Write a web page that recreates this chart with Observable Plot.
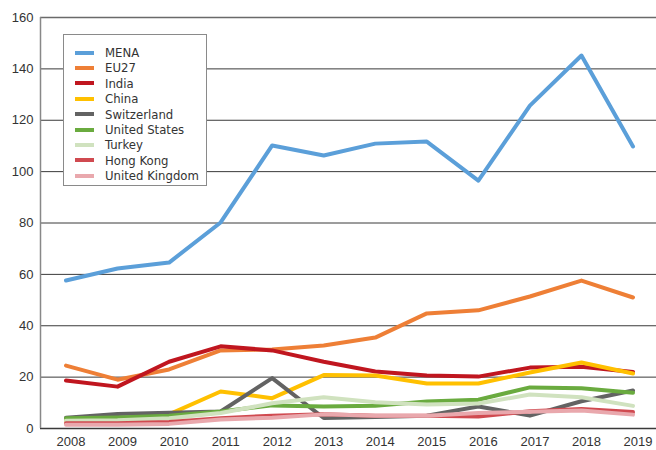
<!DOCTYPE html>
<html>
<head>
<meta charset="utf-8">
<script src="https://cdn.jsdelivr.net/npm/d3@7"></script>
<script src="https://cdn.jsdelivr.net/npm/@observablehq/plot@0.6"></script>
<style>
  html, body { margin: 0; padding: 0; background: #fff; }
  #wrap { position: relative; width: 656px; height: 450px; }
  #legend {
    position: absolute; left: 63px; top: 34px; width: 144px; height: 152px;
    box-sizing: border-box; border: 1.5px solid #8a8a8a; background: #fff;
    font-family: "DejaVu Sans Condensed", "Liberation Sans Narrow", "Liberation Sans", sans-serif;
    font-size: 13px; color: #333; padding-top: 10px;
  }
  .item { height: 15.4px; line-height: 15.4px; display: flex; align-items: center; }
  .sw { width: 19px; height: 4px; margin-left: 11px; margin-right: 11px; }
</style>
</head>
<body>
<div id="wrap"></div>
<script>
const years = [2008, 2009, 2010, 2011, 2012, 2013, 2014, 2015, 2016, 2017, 2018, 2019];
const seriesNames = ["MENA", "EU27", "India", "China", "Switzerland", "United States", "Turkey", "Hong Kong", "United Kingdom"];
const seriesColors = ["#5b9fd9", "#ee7f36", "#c0161f", "#ffc000", "#636363", "#6aab3f", "#d0e2bf", "#d04a50", "#e9a8ad"];
const MENA = [57.6, 62.3, 64.6, 80.2, 110.2, 106.3, 110.9, 111.7, 96.5, 125.7, 145.2, 109.8];
const EU27 = [24.5, 19, 23, 30.4, 30.8, 32.3, 35.4, 44.8, 46, 51.4, 57.6, 51];
const India = [18.7, 16.3, 26, 32, 30.4, 26, 22.2, 20.6, 20.2, 23.7, 24, 22];
const China = [3, 3, 5.5, 14.4, 11.8, 20.8, 20.6, 17.5, 17.5, 21.8, 25.7, 21.4];
const Switzerland = [4.2, 5.6, 6.1, 6.6, 19.6, 4.1, 4.5, 5, 8.6, 5, 10.6, 14.8];
const UnitedStates = [4, 4.3, 5, 6.6, 9, 8.6, 8.9, 10.5, 11.2, 16, 15.7, 13.9];
const Turkey = [3, 3.2, 4, 6, 9.8, 12.2, 10.2, 9.3, 9.7, 13.2, 12.2, 8.8];
const HongKong = [2, 2, 2.5, 4, 5, 5.5, 5, 5, 4.7, 6.7, 7.6, 6.4];
const UnitedKingdom = [1.5, 1.5, 1.8, 3.5, 4.2, 5.5, 5, 5, 6, 6.5, 7, 5.4];
const yTicks = [0, 20, 40, 60, 80, 100, 120, 140, 160];

const seriesValues = [MENA, EU27, India, China, Switzerland, UnitedStates, Turkey, HongKong, UnitedKingdom];
const data = [];
seriesNames.forEach((name, i) => {
  years.forEach((yr, j) => data.push({series: name, year: yr, value: seriesValues[i][j]}));
});

const chart = Plot.plot({
  width: 656,
  height: 450,
  marginLeft: 40,
  marginTop: 17,
  marginBottom: 22,
  marginRight: 0,
  style: {fontFamily: "'Liberation Sans', Arial, sans-serif", fontSize: "13px", color: "#333", background: "#fff"},
  x: {type: "linear", domain: [2008, 2019], range: [65.5, 632.5], axis: null, label: null},
  y: {domain: [0, 160], axis: null, label: null},
  color: {domain: seriesNames, range: seriesColors},
  marks: [
    Plot.ruleY(yTicks.filter(d => d > 0 && d < 160), {y: d => d, stroke: "#3a3a3a", strokeWidth: 1}),
    Plot.ruleY([160], {stroke: "#6a6a6a", strokeWidth: 1.5}),
    Plot.ruleY([0], {stroke: "#3a3a3a", strokeWidth: 1.5}),
    Plot.line(data, {x: "year", y: "value", z: "series", stroke: "series", strokeWidth: 4, strokeLinejoin: "round", strokeLinecap: "round"}),
    Plot.axisY(yTicks, {tickSize: 0, tickPadding: 7, fontSize: 13, fill: "#333", label: null}),
    Plot.axisX(years, {tickSize: 0, tickPadding: 8, fontSize: 13, fill: "#333", dx: 5, label: null, tickFormat: d => String(d)})
  ]
});

// left frame edge
const ys = chart.scale("y");
d3.select(chart).append("line")
  .attr("x1", 40.5).attr("x2", 40.5)
  .attr("y1", ys.apply(160)).attr("y2", ys.apply(0))
  .attr("stroke", "#888").attr("stroke-width", 1.5);

const wrap = document.getElementById("wrap");
wrap.appendChild(chart);

const legend = document.createElement("div");
legend.id = "legend";
seriesNames.forEach((name, i) => {
  const it = document.createElement("div");
  it.className = "item";
  const sw = document.createElement("span");
  sw.className = "sw";
  sw.style.background = seriesColors[i];
  const tx = document.createElement("span");
  tx.textContent = name;
  it.appendChild(sw); it.appendChild(tx);
  legend.appendChild(it);
});
wrap.appendChild(legend);
</script>
</body>
</html>
